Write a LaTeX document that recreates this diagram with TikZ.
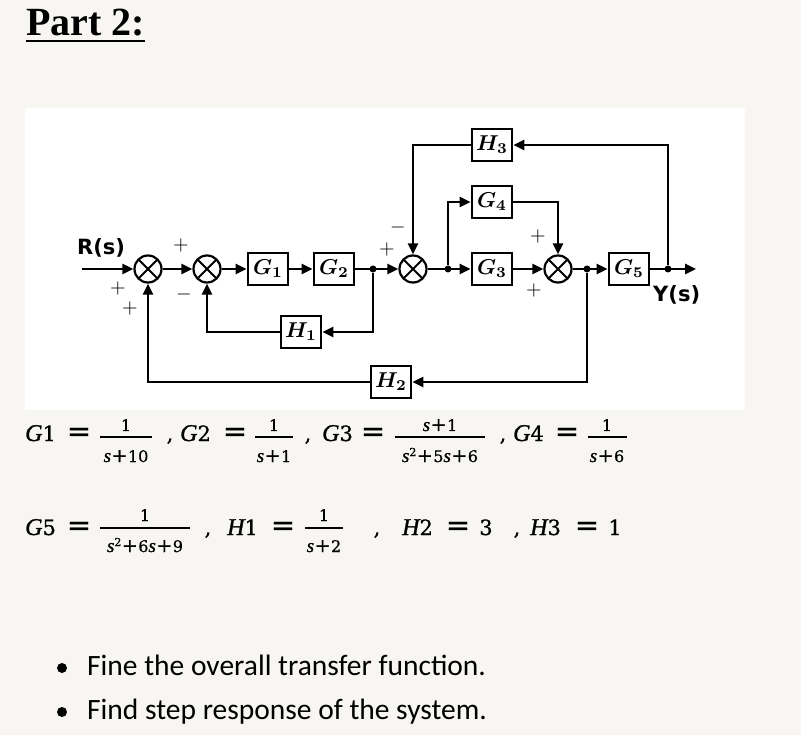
\documentclass[tikz,border=0pt]{standalone}
\usepackage[no-math]{fontspec}
\setmainfont{Carlito}
\newfontfamily\titlefont{Liberation Serif}
\newfontfamily\labfont{DejaVu Sans}
\newfontfamily\eqd[FakeBold=0.8]{DejaVu Serif}
\newfontfamily\eqi[FakeBold=1.2]{Liberation Serif}
\usetikzlibrary{arrows.meta}
\definecolor{pagebg}{RGB}{247,246,242}
% main-size pieces
\newcommand\mv[1]{{\eqi\itshape\fontsize{24}{24}\selectfont #1}}
\newcommand\md[1]{{\eqd\fontsize{21}{21}\selectfont #1}}
\newcommand\meq{{\eqd\fontsize{29}{29}\selectfont =}}
% fraction-size pieces
\newcommand\fv[1]{{\eqi\itshape\fontsize{19}{19}\selectfont #1}}
\newcommand\fd[1]{{\eqd\fontsize{16}{16}\selectfont #1}}
\newcommand\fp{\kern0.5pt{\eqd\fontsize{19}{19}\selectfont +}\kern0.5pt}
\newcommand\fsq{\raisebox{6pt}{\eqd\fontsize{11}{11}\selectfont 2}}
\newcommand\BL[1]{\scalebox{2.15}{\boldmath$#1$}}
\newcommand\efrac[8]{%
  \node[frn] (#1n) at (#2,#5) {#7};
  \draw[line width=1.5pt] (#2-#3,#4) -- (#2+#3,#4);
  \node[frn] (#1d) at (#2,#6) {#8};
}
\tikzset{
  blk/.style={draw, line width=2.6pt, fill=white, minimum width=40pt, minimum height=32pt,
    inner sep=0pt},
  sumc/.style={draw, circle, line width=2.2pt, minimum size=27pt, inner sep=0pt, fill=white,
    path picture={\draw[line width=2pt]
      (path picture bounding box.north west) -- (path picture bounding box.south east)
      (path picture bounding box.north east) -- (path picture bounding box.south west);}},
  jdot/.style={circle, fill, inner sep=0pt, minimum size=7pt},
  wire/.style={line width=2.5pt},
  arr/.style={wire, -{Triangle[length=11pt,width=10pt]}},
  sgn/.style={inner sep=0pt},
  lab/.style={font=\labfont\bfseries\fontsize{21}{21}\selectfont, inner sep=0pt, anchor=base west},
  eq/.style={inner sep=0pt, anchor=base},
  eqw/.style={eq, anchor=base west},
  frn/.style={inner sep=0pt, anchor=base},
  bul/.style={font=\fontsize{29.5}{30}\selectfont, inner sep=0pt, anchor=base west},
}
\begin{document}
\begin{tikzpicture}[x=1pt,y=-1pt]
\useasboundingbox (0,0) rectangle (801,735);
\fill[pagebg] (0,0) rectangle (801,735);
\fill[white] (25,108) rectangle (745,410);

% title
\node[anchor=base west, inner sep=0pt, font=\titlefont\bfseries\fontsize{40}{40}\selectfont] (title) at (26,36) {Part 2:};
\draw[line width=2.7pt] ([yshift=-5pt]title.base west) -- ([yshift=-5pt]title.base east);

% blocks
\node[sumc] (s1) at (148,269) {};
\node[sumc] (s2) at (207,269) {};
\node[blk] (g1) at (268,269) {\BL{G_1}};
\node[blk] (g2) at (334,269) {\BL{G_2}};
\node[jdot] (j1) at (373,269) {};
\node[sumc] (s3) at (413,269) {};
\node[jdot] (j2) at (448,269) {};
\node[blk] (g3) at (492,269) {\BL{G_3}};
\node[blk] (g4) at (492,202) {\BL{G_4}};
\node[blk] (h3) at (492,145) {\BL{H_3}};
\node[sumc] (s4) at (558,269) {};
\node[jdot] (j3) at (587,269) {};
\node[blk] (g5) at (629,269) {\BL{G_5}};
\node[jdot] (j4) at (668,269) {};
\node[blk] (h1) at (301,332) {\BL{H_1}};
\node[blk] (h2) at (391,382) {\BL{H_2}};
\coordinate (rin) at (82,269);
\coordinate (yout) at (696,269);

% wires
\draw[arr] (rin) -- (s1);
\draw[arr] (s1) -- (s2);
\draw[arr] (s2) -- (g1);
\draw[arr] (g1) -- (g2);
\draw[arr] (g2) -- (s3);
\draw[arr] (s3) -- (g3);
\draw[arr] (g3) -- (s4);
\draw[arr] (s4) -- (g5);
\draw[arr] (g5) -- (yout);
\draw[arr] (j1) |- (h1);
\draw[arr] (h1) -| (s2);
\draw[arr] (j3) |- (h2);
\draw[arr] (h2) -| (s1);
\draw[arr] (j2) |- (g4);
\draw[arr] (g4) -| (s4);
\draw[arr] (j4) |- (h3);
\draw[arr] (h3) -| (s3);

% signs
\node[sgn] (p1) at (118,289) {\scalebox{2}{$+$}};
\node[sgn] (p2) at (130,309) {\scalebox{2}{$+$}};
\node[sgn] (p3) at (181,246) {\scalebox{2}{$+$}};
\node[sgn] (p4) at (184,295) {\scalebox{2}{$-$}};
\node[sgn] (p5) at (387,250) {\scalebox{2}{$+$}};
\node[sgn] (p6) at (398,228) {\scalebox{2}{$-$}};
\node[sgn] (p7) at (538,237) {\scalebox{2}{$+$}};
\node[sgn] (p8) at (534,291) {\scalebox{2}{$+$}};

% labels
\node[lab] (rs) at (77,255) {R(s)};
\node[lab] (ys) at (653,302) {Y(s)};

% equations row 1
\node[eqw] (e1) at (25,441) {\mv{G}\md{1}};
\node[eq] (q1) at (79,441) {\meq};
\efrac{f1}{126}{26}{437}{431}{462}{\fd{1}}{\fv{s}\fp\fd{10}}
\node[eq] (c1) at (170,441) {\md{,}};
\node[eqw] (e2) at (180,441) {\mv{G}\md{2}};
\node[eq] (q2) at (235,441) {\meq};
\efrac{f2}{274}{19}{437}{431}{462}{\fd{1}}{\fv{s}\fp\fd{1}}
\node[eq] (c2) at (308,441) {\md{,}};
\node[eqw] (e3) at (322,441) {\mv{G}\md{3}};
\node[eq] (q3) at (373,441) {\meq};
\efrac{f3}{440}{45}{437}{431}{462}{\fv{s}\fp\fd{1}}{\fv{s}\fsq\fp\fd{5}\fv{s}\fp\fd{6}}
\node[eq] (c3) at (503,441) {\md{,}};
\node[eqw] (e4) at (513,441) {\mv{G}\md{4}};
\node[eq] (q4) at (567,441) {\meq};
\efrac{f4}{607}{19.5}{437}{431}{462}{\fd{1}}{\fv{s}\fp\fd{6}}

% equations row 2
\node[eqw] (e5) at (25,535) {\mv{G}\md{5}};
\node[eq] (q5) at (79,535) {\meq};
\efrac{f5}{145}{45}{528}{521}{552}{\fd{1}}{\fv{s}\fsq\fp\fd{6}\fv{s}\fp\fd{9}}
\node[eq] (c5) at (208,535) {\md{,}};
\node[eqw] (e6) at (227,535) {\mv{H}\md{1}};
\node[eq] (q6) at (283,535) {\meq};
\efrac{f6}{324}{19}{528}{521}{552}{\fd{1}}{\fv{s}\fp\fd{2}}
\node[eq] (c6) at (377,535) {\md{,}};
\node[eqw] (e7) at (402,535) {\mv{H}\md{2}};
\node[eq] (q7) at (458,535) {\meq};
\node[eq] (v7) at (486,535) {\md{3}};
\node[eq] (c7) at (517,535) {\md{,}};
\node[eqw] (e8) at (530,535) {\mv{H}\md{3}};
\node[eq] (q8) at (587,535) {\meq};
\node[eq] (v8) at (615,535) {\md{1}};

% bullets
\fill (62,668) circle (5);
\fill (62,712) circle (5);
\node[bul] (t1) at (87,675) {Fine the overall transfer function.};
\node[bul] (t2) at (87,719) {Find step response of the system.};
\end{tikzpicture}
\end{document}
